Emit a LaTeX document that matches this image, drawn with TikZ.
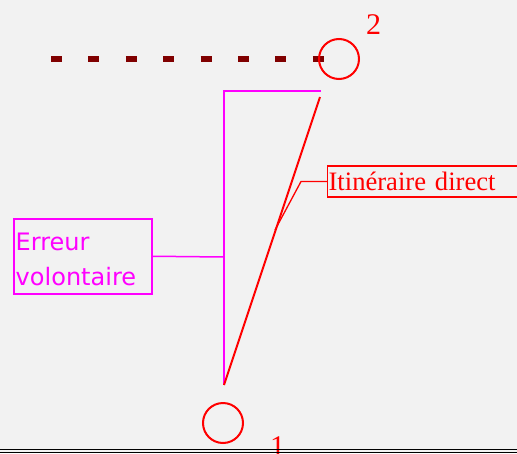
\documentclass[tikz,border=0pt]{standalone}
\usepackage{fontspec}
\setmainfont{Liberation Serif}
\newfontfamily\handfont{DejaVu Sans}
\usetikzlibrary{positioning}

\definecolor{bggray}{HTML}{F2F2F2}
\definecolor{darkred}{HTML}{800000}
\definecolor{pink}{HTML}{FF00FF}

\tikzset{
  waypt/.style={circle, draw=red, line width=2pt, minimum size=40pt, inner sep=0pt},
  num/.style={text=red, font=\fontsize{30}{30}\selectfont, inner sep=0pt, anchor=base west},
  redbox/.style={draw=red, line width=1.2pt, text=red, anchor=west,
    font=\fontsize{26.6}{30}\selectfont, text width=200pt, align=left,
    inner xsep=1pt, inner ysep=2pt, text height=22pt, text depth=5pt},
  pinkbox/.style={draw=pink, line width=1.5pt, text=pink, anchor=north west,
    font=\handfont\fontsize{24}{35}\selectfont, text width=134pt, align=left,
    inner xsep=2pt, inner ysep=0pt, text height=32pt, text depth=43pt},
  route/.style={red, line width=1.3pt}
}

\begin{document}
\begin{tikzpicture}[x=1pt, y=-1pt]
  \fill[bggray] (0,0) rectangle (517,453);
  \useasboundingbox (0,0) rectangle (517,453);

  %Define nodes
  \coordinate (dstart) at (51,59);
  \coordinate (dend) at (324,59);
  \draw[darkred, line width=6pt, dash pattern=on 11pt off 26.4pt] (dstart) -- (dend);

  \node[waypt] (p2) at (339,59) {};
  \node[waypt] (p1) at (223,423) {};
  \node[num] (n2) at (366,34) {2};
  \node[num] (n1) at (270,456) {1};

  \coordinate (tl) at (224,91);
  \coordinate (tr) at (321,91);
  \coordinate (dtop) at (320,97);
  \coordinate (bot) at (224,385);
  \coordinate (mid) at (224,257);
  \coordinate (hit) at (275,230);

  \node[redbox] (itin) at (327,181.5) {Itinéraire direct};
  \node[pinkbox] (err) at (13,218) {Erreur\\volontaire};

  % Connect the nodes
  \draw[pink, line width=2pt] (tr) -- (tl) -- (bot);
  \draw[red, line width=2pt] (dtop) -- (bot);
  \draw[route] (itin.west) -- ++(-26,0) -- (hit);
  \draw[pink, line width=1.5pt] (err.east) -- (mid);

  \draw[black, line width=1pt] (0,449) -- (517,449);
  \draw[black, line width=1pt] (0,452) -- (517,452);
\end{tikzpicture}
\end{document}
